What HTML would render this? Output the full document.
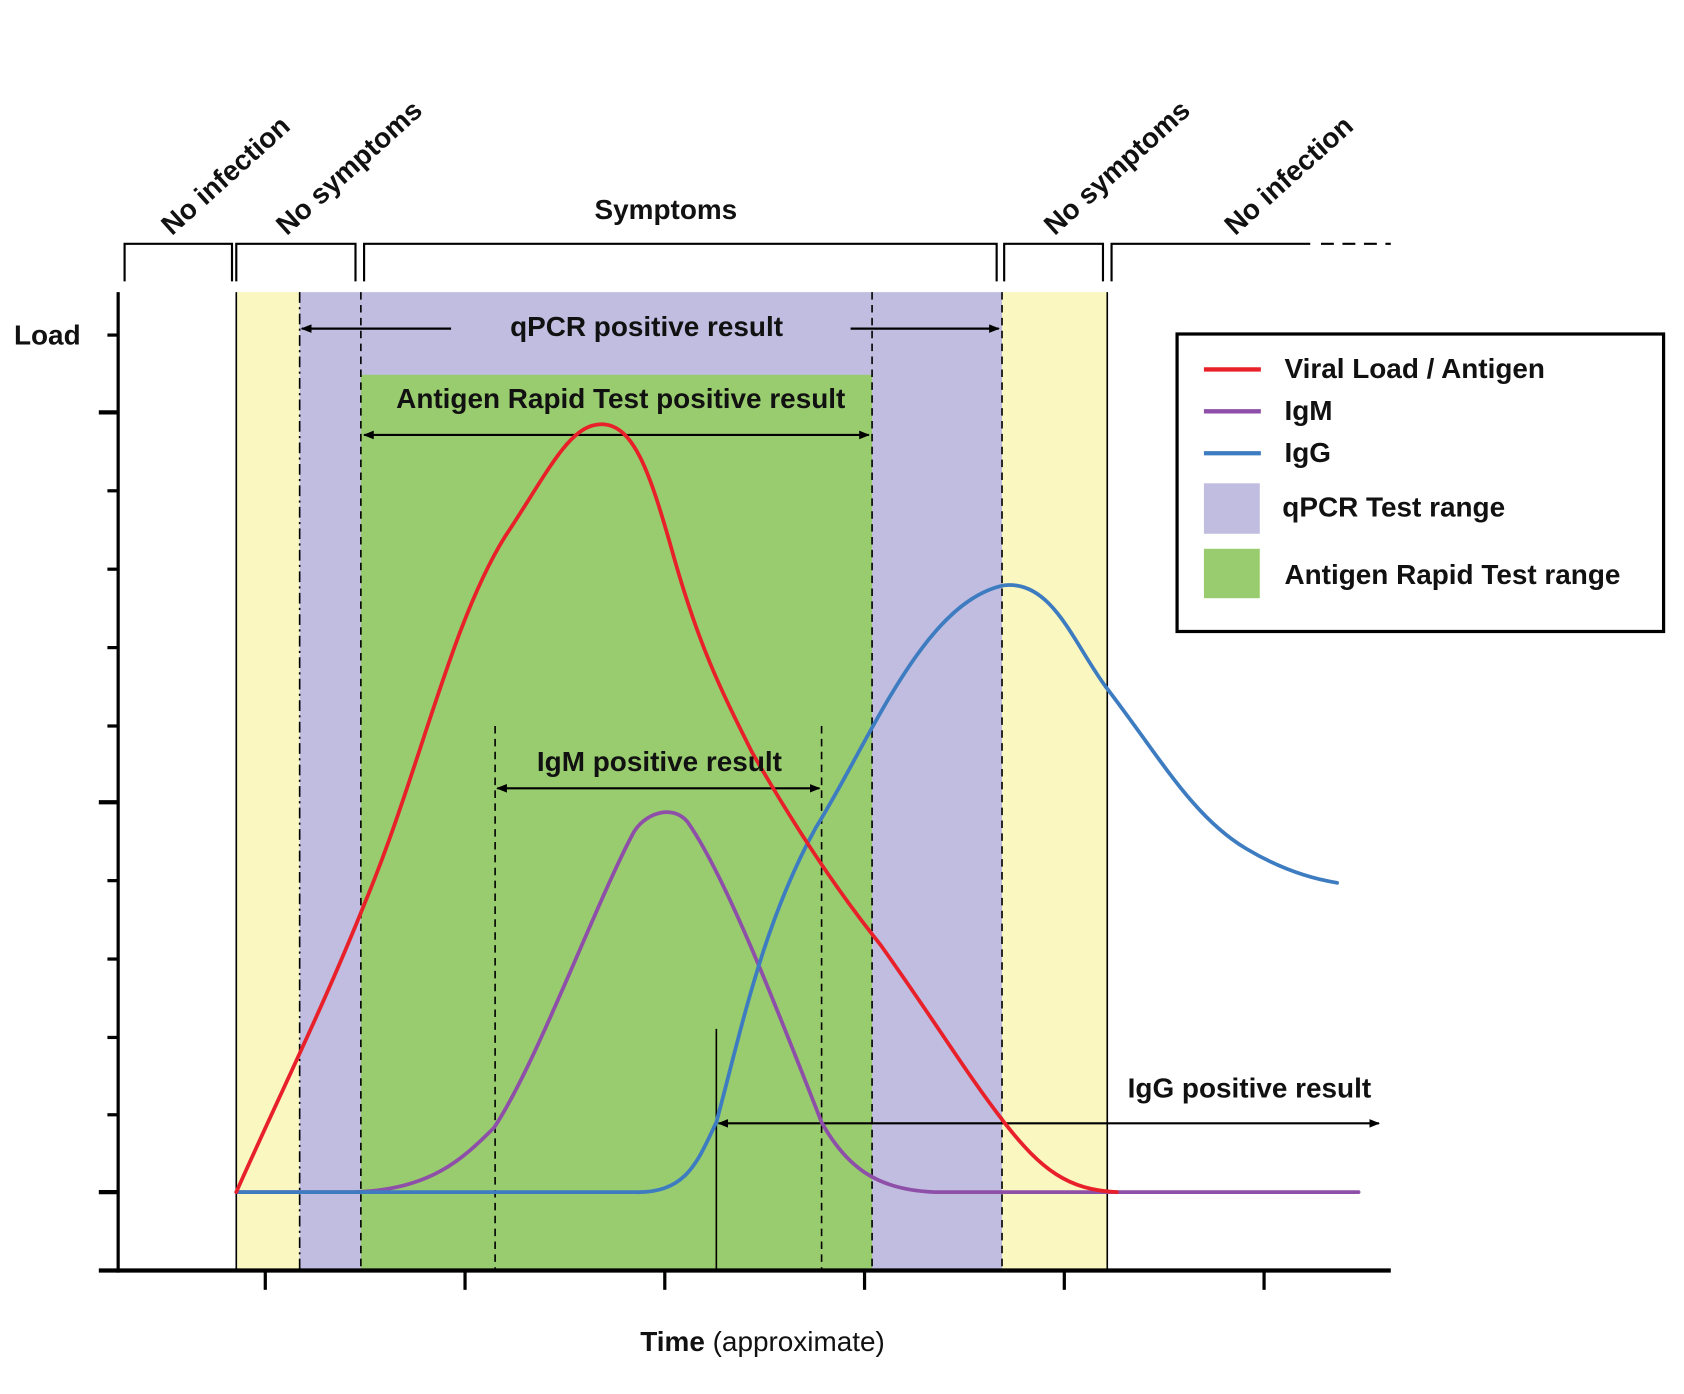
<!DOCTYPE html>
<html><head><meta charset="utf-8"><style>html,body{margin:0;padding:0;background:#fff}svg{display:block}text{font-family:"Liberation Sans",sans-serif;font-weight:bold;fill:#111}</style></head>
<body>
<svg width="1684" height="1394" viewBox="0 0 1568 1298" xmlns="http://www.w3.org/2000/svg">
<defs><marker id="a" markerWidth="10" markerHeight="10" refX="9" refY="5" orient="auto" markerUnits="userSpaceOnUse"><path d="M0,1 L10,5 L0,9 Z" fill="#000"/></marker>
<marker id="b" markerWidth="10" markerHeight="10" refX="1" refY="5" orient="auto" markerUnits="userSpaceOnUse"><path d="M10,1 L0,5 L10,9 Z" fill="#000"/></marker></defs>
<rect x="220" y="272" width="59" height="911" fill="#faf7c0"/>
<rect x="933" y="272" width="98" height="911" fill="#faf7c0"/>
<rect x="279" y="272" width="654" height="911" fill="#c0bde0"/>
<rect x="336" y="349" width="476" height="834" fill="#99cc6e"/>
<g stroke="#000" stroke-width="1.5" fill="none">
<line x1="220" y1="272" x2="220" y2="1183"/><line x1="1031" y1="272" x2="1031" y2="1183"/>
<line x1="279" y1="272" x2="279" y2="1183" stroke-dasharray="10,4,2,4"/>
<line x1="336" y1="272" x2="336" y2="1183" stroke-dasharray="7,5"/>
<line x1="812" y1="272" x2="812" y2="1183" stroke-dasharray="7,5"/>
<line x1="933" y1="272" x2="933" y2="1183" stroke-dasharray="7,5"/>
<line x1="461" y1="676" x2="461" y2="1183" stroke-dasharray="7,5"/>
<line x1="765" y1="676" x2="765" y2="1183" stroke-dasharray="7,5"/>
<line x1="667" y1="958" x2="667" y2="1183"/>
</g>
<g stroke="#000" stroke-width="2" fill="none">
<path d="M116,262 V227 H216 V262"/><path d="M220,262 V227 H331 V262"/><path d="M339,262 V227 H928 V262"/><path d="M935,262 V227 H1027 V262"/><path d="M1035,262 V227 H1220"/><path d="M1230,227 H1295" stroke-dasharray="12,8"/>
</g>
<line x1="110" y1="272" x2="110" y2="1185" stroke="#000" stroke-width="3"/>
<line x1="92" y1="1183" x2="1295" y2="1183" stroke="#000" stroke-width="4"/>
<g stroke="#000" stroke-width="3">
<line x1="100" y1="312" x2="110" y2="312"/><line x1="92" y1="384" x2="110" y2="384" stroke-width="4"/><line x1="100" y1="457" x2="110" y2="457"/><line x1="100" y1="530" x2="110" y2="530"/><line x1="100" y1="603" x2="110" y2="603"/><line x1="100" y1="676" x2="110" y2="676"/><line x1="92" y1="747" x2="110" y2="747" stroke-width="4"/><line x1="100" y1="820" x2="110" y2="820"/><line x1="100" y1="893" x2="110" y2="893"/><line x1="100" y1="966" x2="110" y2="966"/><line x1="100" y1="1038" x2="110" y2="1038"/><line x1="92" y1="1110" x2="110" y2="1110" stroke-width="4"/>
<line x1="247" y1="1183" x2="247" y2="1201"/><line x1="433" y1="1183" x2="433" y2="1201"/><line x1="619" y1="1183" x2="619" y2="1201"/><line x1="805" y1="1183" x2="805" y2="1201"/><line x1="991" y1="1183" x2="991" y2="1201"/><line x1="1177" y1="1183" x2="1177" y2="1201"/>
</g>
<g stroke="#000" stroke-width="2">
<line x1="420" y1="306" x2="281" y2="306" marker-end="url(#a)"/>
<line x1="792" y1="306" x2="930" y2="306" marker-end="url(#a)"/>
<line x1="339" y1="405" x2="809" y2="405" marker-start="url(#b)" marker-end="url(#a)"/>
<line x1="463" y1="734" x2="763" y2="734" marker-start="url(#b)" marker-end="url(#a)"/>
<line x1="669" y1="1046" x2="1284" y2="1046" marker-start="url(#b)" marker-end="url(#a)"/>
</g>
<g fill="none" stroke-width="3.5" stroke-linecap="round">
<path stroke="#8e4fa8" d="M220,1110 L330,1110 C400,1108 430,1080 460,1050 C500,990 555,840 590,775 C600,758 625,748 640,765 C675,815 720,930 765,1045 C790,1090 820,1108 870,1110 L1265,1110"/>
<path stroke="#3d7cc0" d="M220,1110 L590,1110 C640,1112 650,1080 667,1045 C690,960 710,860 760,770 C810,690 860,560 935,545 C980,540 1000,600 1030,640 C1080,705 1110,760 1160,790 C1190,808 1220,818 1245,822"/>
<path stroke="#e8202a" d="M220,1110 C260,1020 300,940 340,840 C390,720 420,580 470,500 C510,440 530,395 560,395 C590,395 605,440 625,510 C650,600 670,640 700,700 C740,770 780,830 820,880 C870,950 900,1000 935,1045 C970,1090 995,1108 1040,1110"/>
</g>
<g font-size="26">
<text x="13" y="321">Load</text>
<text x="602" y="313" text-anchor="middle">qPCR positive result</text>
<text x="578" y="380" text-anchor="middle">Antigen Rapid Test positive result</text>
<text x="614" y="718" text-anchor="middle">IgM positive result</text>
<text x="1050" y="1022">IgG positive result</text>
<text x="620" y="204" text-anchor="middle">Symptoms</text>
<text transform="translate(160,220) rotate(-42)">No infection</text>
<text transform="translate(267,220) rotate(-42)">No symptoms</text>
<text transform="translate(982,220) rotate(-42)">No symptoms</text>
<text transform="translate(1150,220) rotate(-42)">No infection</text>
<text x="710" y="1258" text-anchor="middle">Time <tspan font-weight="normal">(approximate)</tspan></text>
</g>
<rect x="1096" y="311" width="453" height="277" fill="#fff" stroke="#000" stroke-width="3"/>
<g stroke-width="4"><line x1="1121" y1="344" x2="1174" y2="344" stroke="#e8202a"/><line x1="1121" y1="383" x2="1174" y2="383" stroke="#8e4fa8"/><line x1="1121" y1="422" x2="1174" y2="422" stroke="#3d7cc0"/></g>
<rect x="1121" y="450" width="52" height="47" fill="#c0bde0"/>
<rect x="1121" y="511" width="52" height="46" fill="#99cc6e"/>
<g font-size="26">
<text x="1196" y="352">Viral Load / Antigen</text>
<text x="1196" y="391">IgM</text>
<text x="1196" y="430">IgG</text>
<text x="1194" y="481">qPCR Test range</text>
<text x="1196" y="544">Antigen Rapid Test range</text>
</g>
</svg>
</body></html>
